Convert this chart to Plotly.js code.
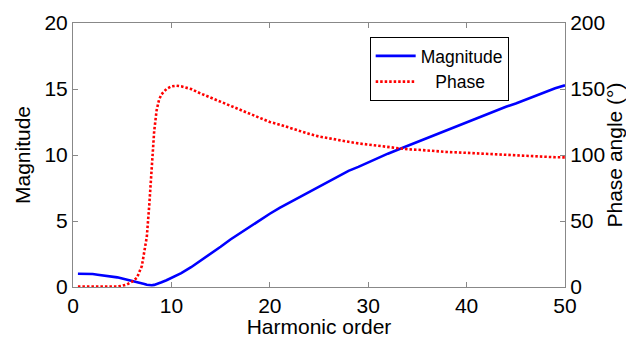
<!DOCTYPE html>
<html>
<head>
<meta charset="utf-8">
<script src="https://cdn.plot.ly/plotly-3.0.1.min.js"></script>
<style>html,body{margin:0;padding:0;background:#fff;}#chart{width:626px;height:338px;}</style>
</head>
<body>
<div id="chart"></div>
<script>
// Harmonic order (x) shared by both series
const harmonic = [0.5,1,1.5,2,2.5,3,3.5,4,4.5,5,5.5,6,6.5,7,7.25,7.5,7.75,8,8.25,8.5,8.75,9,9.5,10,10.5,11,12,13,14,15,16,17,18,19,20,21,22,23,24,25,26,27,28,29,30,31,32,33,34,35,36,37,38,39,40,41,42,43,44,45,46,47,48,49,50];
// Magnitude (left axis)
const magnitude = [1.0,1.0,1.0,0.98,0.93,0.89,0.86,0.81,0.73,0.64,0.56,0.48,0.39,0.29,0.23,0.17,0.14,0.13,0.16,0.21,0.28,0.36,0.51,0.68,0.86,1.05,1.5,2.0,2.5,3.05,3.6,4.1,4.6,5.1,5.55,6.0,6.4,6.8,7.25,7.65,8.05,8.45,8.8,9.1,9.45,9.8,10.1,10.4,10.7,11.0,11.3,11.6,11.9,12.2,12.45,12.75,13.05,13.35,13.65,13.9,14.2,14.5,14.8,15.05,15.28];
// Phase angle in degrees (right axis)
const phase = [0.3,0.3,0.3,0.3,0.3,0.3,0.3,0.3,0.4,0.9,2,4,7,16,26,38,62,90,118,134,142,146,150,152,152.5,152,150,146.5,143.5,140.5,137.5,134,131,128,125,123,120.5,118,116,114,112.5,111,110,108.8,107.8,107,106.3,105.3,104.3,104,103.3,102.8,102.3,102,101.6,101,100.7,100.3,99.8,99.6,99.3,98.8,98.5,98.3,98.2];
const seriesNames = ['Magnitude', '\u00A0\u00A0\u00A0Phase'];
const xTitle = 'Harmonic order';
const yTitle = 'Magnitude';
const y2Title = 'Phase angle (\u00B0)';

const FONT = 'Arial, "Liberation Sans", sans-serif';
const AX = '#888888';

const traces = [
  {x: harmonic, y: magnitude, name: seriesNames[0], type: 'scatter', mode: 'lines',
   line: {color: '#0000ff', width: 2.6}, yaxis: 'y'},
  {x: harmonic, y: phase, name: seriesNames[1], type: 'scatter', mode: 'lines',
   line: {color: '#ff0000', width: 2.6, dash: '2.5px,2px'}, yaxis: 'y2'}
];

const layout = {
  width: 626, height: 338,
  margin: {l: 73, r: 60.5, t: 23, b: 51},
  paper_bgcolor: '#fff', plot_bgcolor: '#fff',
  font: {family: FONT, size: 21, color: '#000'},
  showlegend: true,
  legend: {x: 0.603, y: 0.947, xanchor: 'left', yanchor: 'top',
    bgcolor: '#fff', bordercolor: '#000', borderwidth: 1, itemwidth: 40,
    font: {family: FONT, size: 17.5, color: '#000'}, tracegroupgap: 0},
  xaxis: {range: [0, 50], dtick: 10, tick0: 0, showgrid: false, zeroline: false,
    showline: true, linecolor: AX, linewidth: 1, mirror: 'ticks',
    ticks: 'inside', ticklen: 5, tickcolor: AX,
    tickfont: {family: FONT, size: 21, color: '#000'},
    title: {text: xTitle, font: {family: FONT, size: 21, color: '#000'}, standoff: 2}},
  yaxis: {range: [0, 20], dtick: 5, tick0: 0, showgrid: false, zeroline: false,
    showline: true, linecolor: AX, linewidth: 1,
    ticks: 'inside', ticklen: 5, tickcolor: AX,
    tickfont: {family: FONT, size: 21, color: '#000'},
    title: {text: yTitle, font: {family: FONT, size: 21, color: '#000'}, standoff: 8}},
  yaxis2: {range: [0, 200], dtick: 50, tick0: 0, overlaying: 'y', side: 'right',
    showgrid: false, zeroline: false,
    showline: true, linecolor: AX, linewidth: 1,
    ticks: 'inside', ticklen: 5, tickcolor: AX,
    tickfont: {family: FONT, size: 21, color: '#000'},
    title: {text: y2Title, font: {family: FONT, size: 21, color: '#000'}, standoff: 0}}
};

Plotly.newPlot('chart', traces, layout, {displayModeBar: false, staticPlot: true});
</script>
</body>
</html>
